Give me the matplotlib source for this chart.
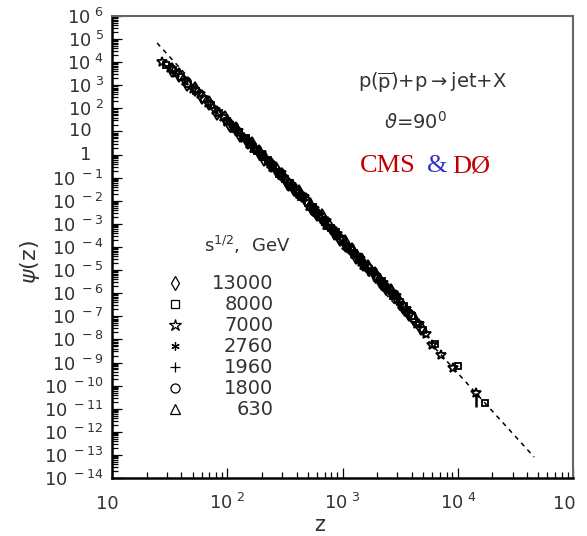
import matplotlib
matplotlib.use("Agg")
import matplotlib.pyplot as plt
from matplotlib.ticker import FixedLocator, NullFormatter

plt.rcParams['font.family'] = ['DejaVu Sans']
plt.rcParams['mathtext.fontset'] = 'custom'
plt.rcParams['mathtext.rm'] = 'DejaVu Sans'
plt.rcParams['mathtext.it'] = 'DejaVu Sans:italic'

# data, z and psi(z) for each energy (GeV)
z_13000 = [33, 38, 45, 52, 60, 70, 82, 95, 105, 120, 150, 190, 240, 300, 380, 480, 600, 750, 950,
           1200, 1500, 1900, 2400, 3000, 3800, 4800]
psi_13000 = [4.6e3, 2.9e3, 1.1e3, 6.8e2, 3.0e2, 1.7e2, 6.6e1, 3.9e1, 2.0e1, 1.3e1, 3.6, 1.3, 3.4e-1,
             1.3e-1, 3.1e-2, 1.1e-2, 2.8e-3, 1.0e-3, 2.3e-4, 7.6e-5, 1.9e-5, 6.9e-6, 1.6e-6, 5.9e-7,
             1.2e-7, 3.2e-8]
z_13000b = [130, 165, 210, 265, 330, 420, 530, 660, 840, 1050, 1320, 1680, 2100, 2650, 3350, 4200]
psi_13000b = [7.0, 2.9, 6.6e-1, 2.5e-1, 6.2e-2, 2.3e-2, 5.2e-3, 2.1e-3, 4.4e-4, 1.7e-4, 3.7e-5,
              1.35e-5, 3.3e-6, 1.2e-6, 2.5e-7, 8.0e-8]

z_8000 = [29.5, 34, 40, 46, 54, 63, 72, 85, 100, 126, 158, 200, 251, 316, 398, 501, 631, 794, 1000,
          1260, 1580, 2000, 2510, 3160, 3980, 5010, 6310, 10000, 17200]
psi_8000 = [7.9e3, 4.6e3, 2.2e3, 1.15e3, 5.6e2, 2.6e2, 1.35e2, 6.4e1, 2.9e1, 9.6, 3.1, 1.0, 3.1e-1,
            9.2e-2, 2.8e-2, 8.2e-3, 2.4e-3, 6.9e-4, 2.0e-4, 5.6e-5, 1.7e-5, 5.2e-6, 1.5e-6, 4.2e-7,
            1.05e-7, 2.6e-8, 6.6e-9, 7.0e-10, 1.8e-11]
z_8000b = [115, 145, 180, 225, 280, 350, 440, 550, 700, 870, 1100, 1380, 1750, 2200, 2750, 3450]
psi_8000b = [12.5, 5.2, 1.4, 5.8e-1, 1.5e-1, 5.8e-2, 1.4e-2, 5.4e-3, 1.2e-3, 4.6e-4, 1.0e-4,
             3.7e-5, 8.7e-6, 3.3e-6, 7.8e-7, 2.8e-7]

z_7000 = [27, 31.6, 36, 43, 50, 58, 68, 79, 91, 112, 141, 178, 224, 282, 355, 447, 562, 708, 891,
          1120, 1410, 1780, 2240, 2820, 3550, 4470, 5300, 6000, 7100, 9060, 14400]
psi_7000 = [1.0e4, 5.8e3, 3.3e3, 1.5e3, 7.2e2, 4.0e2, 1.7e2, 8.8e1, 4.2e1, 1.7e1, 5.0, 1.8, 5.2e-1,
            1.7e-1, 4.6e-2, 1.6e-2, 4.5e-3, 1.2e-3, 3.7e-4, 9.5e-5, 3.1e-5, 8.5e-6, 2.8e-6, 7.2e-7,
            2.1e-7, 4.8e-8, 1.8e-8, 5.8e-9, 2.1e-9, 5.8e-10, 4.8e-11]
z_7000b = [100, 125, 155, 195, 235, 290, 360, 460, 570, 720, 900, 1150, 1450, 1820, 2300, 2900,
           3650, 4600]
psi_7000b = [25, 11, 3.0, 1.2, 3.8e-1, 1.6e-1, 4.1e-2, 1.4e-2, 3.5e-3, 1.3e-3, 3.0e-4, 1.0e-4,
             2.3e-5, 8.8e-6, 2.0e-6, 7.3e-7, 1.5e-7, 4.7e-8]

z_2760 = [110, 135, 165, 200, 245, 300, 370, 450, 550, 680, 830, 1020, 1250, 1530, 1880, 2300]
psi_2760 = [2.0e1, 6.0, 2.7, 8.5e-1, 3.7e-1, 1.05e-1, 4.3e-2, 1.3e-2, 5.2e-3, 1.4e-3, 5.7e-4,
            1.55e-4, 6.1e-5, 1.75e-5, 7.4e-6, 2.1e-6]

z_1960 = [180, 215, 260, 310, 370, 440, 520, 620, 740, 880, 1050, 1250, 1500, 1800, 2150, 2600,
          3100, 3700, 4300]
psi_1960 = [1.45, 7.2e-1, 2.3e-1, 1.1e-1, 3.6e-2, 1.75e-2, 6.0e-3, 2.8e-3, 9.2e-4, 4.1e-4, 1.4e-4,
            6.0e-5, 1.95e-5, 9.2e-6, 3.2e-6, 1.3e-6, 4.2e-7, 1.65e-7, 5.8e-8]

z_1800 = [200, 240, 290, 345, 410, 490, 580, 690, 820, 980, 1160, 1380, 1650, 1960, 2330, 2780,
          3300, 3900]
psi_1800 = [1.0, 4.0e-1, 1.3e-1, 6.1e-2, 2.1e-2, 9.8e-3, 3.4e-3, 1.55e-3, 5.2e-4, 2.3e-4, 7.9e-5,
            3.6e-5, 1.2e-5, 5.6e-6, 1.9e-6, 8.8e-7, 2.9e-7, 1.15e-7]

z_630 = [140, 170, 205, 250, 300, 360, 430, 520, 620, 740, 890, 1070, 1280, 1540]
psi_630 = [5.9, 1.95, 9.0e-1, 2.8e-1, 1.25e-1, 4.3e-2, 1.9e-2, 6.1e-3, 2.8e-3, 9.4e-4, 3.7e-4,
           1.2e-4, 5.2e-5, 1.7e-5]

# dashed fit line, two ends
fit_z = [24.6, 4.6e4]
fit_psi = [6.8e4, 8.1e-14]

# error bar on the last 7000 GeV point
err_z = [14400]
err_psi = [4.8e-11]
err_low = [3.6e-11]

energies = ["13000", "8000", "7000", "2760", "1960", "1800", "630"]
series = [[(z_13000, psi_13000), (z_13000b, psi_13000b)],
          [(z_8000, psi_8000), (z_8000b, psi_8000b)],
          [(z_7000, psi_7000), (z_7000b, psi_7000b)],
          [(z_2760, psi_2760)], [(z_1960, psi_1960)], [(z_1800, psi_1800)], [(z_630, psi_630)]]
markers = ["d", "s", "*", (6, 2, 0), "+", "o", "^"]
msizes = [7, 5, 7.5, 6, 7, 6, 6]
leg_sizes = [7.5, 5.5, 9, 6, 7, 6.5, 6.5]

fig = plt.figure(figsize=(5.87, 5.36), dpi=100)
ax = fig.add_axes([112 / 587, 1 - 478 / 536, (573 - 112) / 587, (478 - 16) / 536])
ax.set_xscale("log")
ax.set_yscale("log")
ax.set_xlim(10, 1e5)
ax.set_ylim(1e-14, 1e6)

ax.plot(fit_z, fit_psi, color="black", lw=1.1, ls=(0, (3, 3)), zorder=2)

for sets, m, ms in zip(series, markers, msizes):
    for zz, pp in sets:
        ax.plot(zz, pp, ls="none", marker=m, ms=ms, mfc="none", mec="black", mew=1.3, zorder=3)

ax.errorbar(err_z, err_psi, yerr=[err_low, [0]], fmt="none", ecolor="black", elinewidth=1.8, capsize=0)

# legend drawn by hand, labels right aligned
ax.text(0.2, 0.505, r"s$^{1/2}$,  GeV", transform=ax.transAxes, fontsize=13, color="#333333",
        va="center")
for i, (lab, m, ms) in enumerate(zip(energies, markers, leg_sizes)):
    y = 0.422 - i * 0.0455
    ax.plot([0.137], [y], transform=ax.transAxes, ls="none", marker=m, ms=ms, mfc="none",
            mec="black", mew=0.9, clip_on=False)
    ax.text(0.35, y, lab, transform=ax.transAxes, fontsize=14, color="#333333",
            ha="right", va="center")

ax.text(0.534, 0.855, r"p($\mathregular{\overline{p}}$)+p$\rightarrow$jet+X", transform=ax.transAxes,
        fontsize=14, color="#333333", va="center")
ax.text(0.59, 0.77, r"$\vartheta$=90$^{0}$", transform=ax.transAxes, fontsize=14, color="#333333",
        va="center")
ax.text(0.538, 0.675, "CMS", transform=ax.transAxes, fontsize=19, color="#c00000",
        family="Liberation Serif", va="center")
ax.text(0.683, 0.675, "&", transform=ax.transAxes, fontsize=19, color="#3333cc",
        family="Liberation Serif", va="center")
ax.text(0.737, 0.675, "DØ", transform=ax.transAxes, fontsize=19, color="#c00000",
        family="Liberation Serif", va="center")

# ticks
xmaj = [10.0 ** k for k in range(1, 6)]
xmin = [i * 10.0 ** k for k in range(1, 5) for i in range(2, 10)]
ymaj = [10.0 ** k for k in range(-14, 7)]
ymin = [i * 10.0 ** k for k in range(-14, 6) for i in range(2, 10)]
ax.xaxis.set_major_locator(FixedLocator(xmaj))
ax.xaxis.set_minor_locator(FixedLocator(xmin))
ax.yaxis.set_major_locator(FixedLocator(ymaj))
ax.yaxis.set_minor_locator(FixedLocator(ymin))
ax.xaxis.set_minor_formatter(NullFormatter())
ax.yaxis.set_minor_formatter(NullFormatter())

# plain "10" and "1" labels sit off the tick, so they are placed by hand
xlabels = ["", r"$\mathregular{10^{\ 2}}$", r"$\mathregular{10^{\ 3}}$",
           r"$\mathregular{10^{\ 4}}$", ""]
ylabels = []
for k in range(-14, 7):
    if k in (0, 1):
        ylabels.append("")
    else:
        ylabels.append(r"$\mathregular{10^{\ %d}}$" % k)
ax.set_xticklabels(xlabels)
ax.set_yticklabels(ylabels)

lab_kw = dict(fontsize=13, color="#333333", textcoords="offset points", annotation_clip=False)
ax.annotate("10", xy=(0, 10), xycoords=("axes fraction", "data"), xytext=(-14.5, 0),
            ha="right", va="center", **lab_kw)
ax.annotate("1", xy=(0, 1), xycoords=("axes fraction", "data"), xytext=(-14.5, 0),
            ha="right", va="center", **lab_kw)
ax.annotate("10", xy=(10, 0), xycoords=("data", "axes fraction"), xytext=(-3.5, -12),
            ha="center", va="top", **lab_kw)
ax.annotate("10", xy=(1e5, 0), xycoords=("data", "axes fraction"), xytext=(-6, -12),
            ha="center", va="top", **lab_kw)

ax.tick_params(which="both", direction="in", top=False, right=False, colors="black",
               labelcolor="#333333", labelsize=13, width=0.9)
ax.tick_params(axis="y", which="major", length=7, pad=6)
ax.tick_params(axis="y", which="minor", length=4)
ax.tick_params(axis="x", which="major", length=7, pad=11)
ax.tick_params(axis="x", which="minor", length=4)

for s in ["left", "bottom"]:
    ax.spines[s].set_linewidth(1.8)
    ax.spines[s].set_color("black")
for s in ["top", "right"]:
    ax.spines[s].set_linewidth(1.5)
    ax.spines[s].set_color("#666666")

fig.text(320 / 587, 1 - 525 / 536, "z", fontsize=15, color="#333333", ha="center", va="center")
fig.text(30 / 587, 1 - 262 / 536, r"$\psi$(z)", fontsize=16, color="#333333", rotation=90,
         ha="center", va="center")

fig.savefig("out.png", dpi=100)
